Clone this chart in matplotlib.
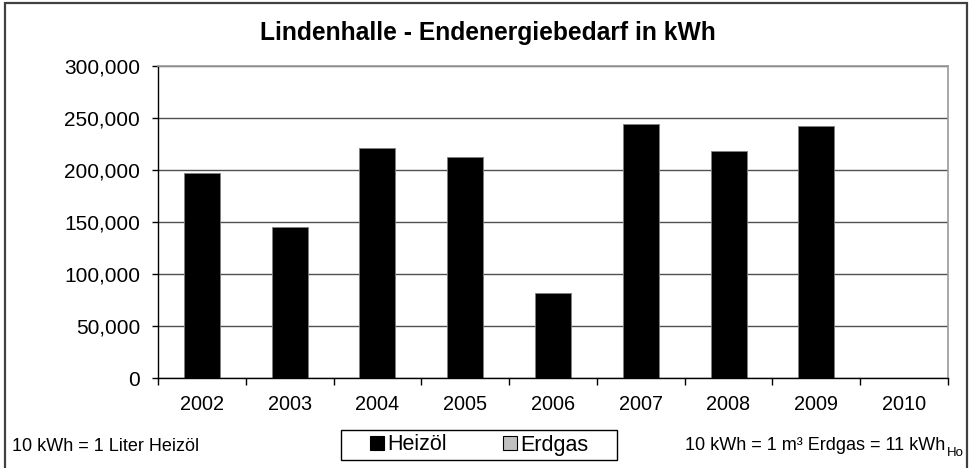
import matplotlib
matplotlib.use("Agg")
import matplotlib.pyplot as plt
from matplotlib.patches import Patch, Rectangle
from matplotlib.ticker import FuncFormatter, FixedLocator
import numpy as np

plt.rcParams['font.family'] = ['Liberation Sans', 'DejaVu Sans']

years = ["2002", "2003", "2004", "2005", "2006", "2007", "2008", "2009", "2010"]
heizoel = [196800, 145500, 220800, 212800, 81400, 244200, 217900, 242300, 0]
erdgas = [0, 0, 0, 0, 0, 0, 0, 0, 0]
series_names = ["Heizöl", "Erdgas"]
title = "Lindenhalle - Endenergiebedarf in kWh"
note_left = "10 kWh = 1 Liter Heizöl"
note_right = "10 kWh = 1 m³ Erdgas = 11 kWh"
note_sub = "Ho"

W, H = 970, 468
fig = plt.figure(figsize=(W / 100, H / 100), dpi=100)

def fx(px):
    return px / W

def fy(py):
    return 1 - py / H

ax = fig.add_axes([fx(158), fy(378), fx(948) - fx(158), fy(66) - fy(378)])

x = np.arange(len(years))
ax.bar(x, heizoel, width=0.41, color='black', edgecolor='#808080', linewidth=0.6, zorder=3)
ax.bar(x, erdgas, width=0.41, bottom=heizoel, color='#c0c0c0', edgecolor='black', linewidth=0.0, zorder=3)

ax.set_xlim(-0.5, len(years) - 0.5)
ax.set_ylim(0, 300000)
ax.set_yticks(np.arange(0, 300001, 50000))
ax.yaxis.set_major_formatter(FuncFormatter(lambda v, p: f"{int(v):,}"))
ax.yaxis.grid(True, color='#505050', linewidth=1.0, zorder=1)
ax.set_axisbelow(True)

ax.xaxis.set_major_locator(FixedLocator(np.arange(-0.5, len(years), 1.0)))
ax.xaxis.set_minor_locator(FixedLocator(x))
ax.set_xticklabels([], minor=False)
ax.set_xticklabels(years, minor=True)
ax.tick_params(axis='x', which='minor', length=0, pad=12, labelsize=14.3)
ax.tick_params(axis='x', which='major', length=5, width=1, color='black', direction='out')
ax.tick_params(axis='y', length=4.5, width=1, color='black', direction='out', pad=8.5, labelsize=15)

for s in ['top', 'right']:
    ax.spines[s].set_color('#9a9a9a')
    ax.spines[s].set_linewidth(1.2)
for s in ['left', 'bottom']:
    ax.spines[s].set_color('black')
    ax.spines[s].set_linewidth(1.0)
ax.spines['bottom'].set_zorder(4)

# outer chart frame
fig.patches.append(Rectangle((fx(5), fy(480)), fx(967) - fx(5), fy(3) - fy(480),
                             transform=fig.transFigure, fill=False,
                             edgecolor='#404040', linewidth=1.6))

fig.text(fx(488), fy(33), title, ha='center', va='center', fontsize=17.7, fontweight='bold')

# legend
handles = [Patch(facecolor='black', edgecolor='black', linewidth=0.8),
           Patch(facecolor='#c0c0c0', edgecolor='black', linewidth=0.8)]
leg = fig.legend(handles, series_names, loc='center', bbox_to_anchor=(fx(479), fy(445)),
                 ncol=2, frameon=False, fontsize=15.5, handlelength=0.65, handleheight=0.65,
                 handletextpad=0.15, columnspacing=2.6, borderpad=0.2)
fig.patches.append(Rectangle((fx(341), fy(460)), fx(617) - fx(341), fy(430) - fy(460),
                             transform=fig.transFigure, fill=False,
                             edgecolor='black', linewidth=1.0))

fig.text(fx(12), fy(451), note_left, ha='left', va='baseline', fontsize=13)
t = fig.text(fx(685), fy(450), note_right, ha='left', va='baseline', fontsize=13)
fig.canvas.draw()
bb = t.get_window_extent()
fig.text(fx(bb.x1 + 2), fy(456), note_sub, ha='left', va='baseline', fontsize=9.5)

fig.savefig("out.png", dpi=100)
